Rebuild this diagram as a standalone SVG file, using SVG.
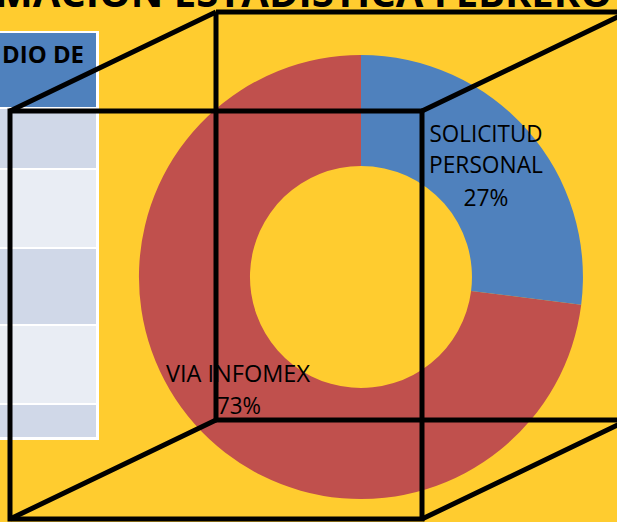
<svg xmlns="http://www.w3.org/2000/svg" width="617" height="522" viewBox="0 0 617 522">
<style>
.bg{fill:#FFCC2F}
.hdr{fill:#4F81BD}
.r1{fill:#D0D8E8}
.r2{fill:#E9EDF4}
.lbl{font-family:"Open Sans","Liberation Sans",sans-serif;font-size:23px;fill:#000}
.cube{fill:none;stroke:#000;stroke-width:5;stroke-linejoin:miter}
</style>
<rect class="bg" x="0" y="0" width="617" height="522"/>
<text x="612" y="7" text-anchor="end" font-family="'Open Sans','Liberation Sans',sans-serif" font-weight="bold" font-size="40" fill="#000">INFORMACION ESTADISTICA FEBRERO</text>
<g id="table">
<rect x="0" y="31" width="99" height="409" fill="#FFFFFF"/>
<rect class="hdr" x="0" y="33" width="96" height="74"/>
<text x="2" y="63" font-family="'Open Sans','Liberation Sans',sans-serif" font-weight="bold" font-size="23" fill="#000" textLength="82" lengthAdjust="spacingAndGlyphs">DIO DE</text>
<rect class="r1" x="0" y="109" width="96" height="59"/>
<rect class="r2" x="0" y="170" width="96" height="77"/>
<rect class="r1" x="0" y="249" width="96" height="75"/>
<rect class="r2" x="0" y="326" width="96" height="77"/>
<rect class="r1" x="0" y="405" width="96" height="32"/>
</g>
<g id="donut">
<path id="via-infomex" fill="#C0504D" d="M361 55 A222 222 0 1 0 581.2 304.8 L471.1 290.9 A111 111 0 1 1 361 166 Z"/>
<path id="solicitud-personal" fill="#4F81BD" d="M361 55 A222 222 0 0 1 581.2 304.8 L471.1 290.9 A111 111 0 0 0 361 166 Z"/>
</g>
<g id="labels">
<text class="lbl" text-anchor="middle" x="486" y="142" textLength="113" lengthAdjust="spacingAndGlyphs">SOLICITUD</text>
<text class="lbl" text-anchor="middle" x="486" y="173" textLength="114" lengthAdjust="spacingAndGlyphs">PERSONAL</text>
<text class="lbl" text-anchor="middle" x="486" y="206" textLength="45" lengthAdjust="spacingAndGlyphs">27%</text>
<text class="lbl" text-anchor="middle" x="238" y="382" textLength="144" lengthAdjust="spacingAndGlyphs">VIA INFOMEX</text>
<text class="lbl" text-anchor="middle" x="239" y="414" textLength="44" lengthAdjust="spacingAndGlyphs">73%</text>
</g>
<g id="connectors">
<path class="cube" d="M216 12 H622 M216 12 V420 H622"/>
<rect class="cube" x="10" y="111" width="412" height="408"/>
<path class="cube" d="M10 111 L216 12 M422 111 L626 13 M10 519 L216 420 M422 519 L626 421"/>
</g>
</svg>
